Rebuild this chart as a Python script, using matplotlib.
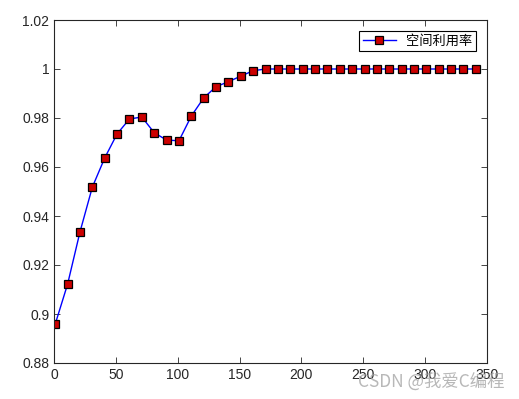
import numpy as np
import matplotlib.pyplot as plt
from matplotlib.ticker import FuncFormatter

plt.rcParams['font.family'] = ['Liberation Sans', 'Noto Sans CJK SC', 'DejaVu Sans']

x = list(range(1, 342, 10))
util = [0.8959, 0.9122, 0.9335, 0.9518, 0.9637, 0.9735, 0.9796, 0.9804, 0.9740,
        0.9710, 0.9707, 0.9808, 0.9882, 0.9928, 0.9948, 0.9971, 0.9993] + [1.0] * 18
label = '空间利用率'

fig = plt.figure(figsize=(5.19, 3.99), dpi=100)
ax = fig.add_axes([54/519, 1 - 363/399, (487 - 54)/519, (363 - 20)/399])
ax.plot(x, util, '-s', color='#0000ff', lw=1, ms=5.5,
        mfc='#cc0000', mec='black', mew=0.9, label=label)

ax.set_xlim(0, 350)
ax.set_ylim(0.88, 1.02)
ax.set_xticks(np.arange(0, 351, 50))
ax.set_yticks(np.arange(0.88, 1.0201, 0.02))
ax.yaxis.set_major_formatter(FuncFormatter(lambda v, p: '%g' % round(v, 2)))
ax.tick_params(direction='in', length=4, width=0.6, labelsize=10, colors='#262626',
               top=True, right=True)
for s in ax.spines.values():
    s.set_linewidth(0.8)
    s.set_color('#262626')

leg = ax.legend(loc='upper right', fancybox=False, framealpha=1, edgecolor='black',
                prop={'family': ['Noto Sans CJK SC'], 'size': 9.5},
                handlelength=2.5, borderaxespad=0.8, borderpad=0.3)
leg.get_frame().set_linewidth(0.8)

# watermark from the source image
fig.text(505/519, 1 - 382/399, 'CSDN @我爱C编程', ha='right', va='center', fontsize=12.5,
         color='#a0a0a0', alpha=0.75, family=['Noto Sans CJK SC', 'DejaVu Sans'])

fig.savefig('out.png', dpi=100)
